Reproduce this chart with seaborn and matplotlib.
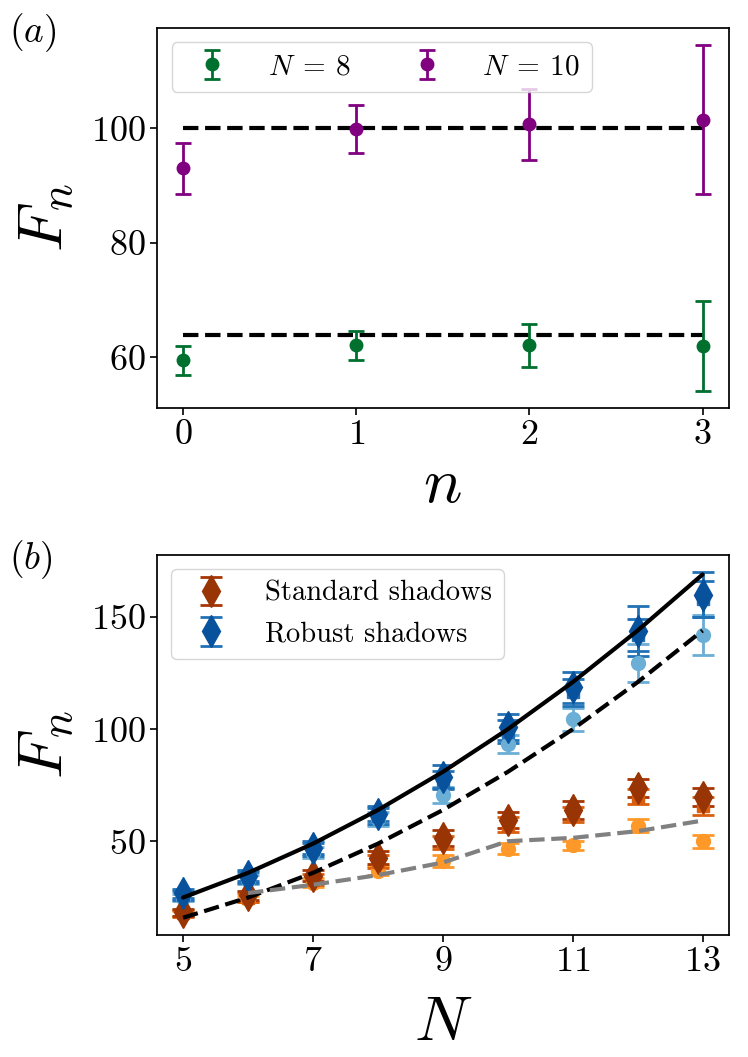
import matplotlib
matplotlib.use("Agg")
import matplotlib.pyplot as plt
import seaborn as sns
import pandas as pd

# ---------------- data: panel (a) ----------------
n_vals = [0, 1, 2, 3]
f_N8 = [59.5, 62.1, 62.1, 62.0]
err_N8 = [2.5, 2.6, 3.8, 7.8]
f_N10 = [93.0, 99.8, 100.7, 101.5]
err_N10 = [4.4, 4.2, 6.2, 13.0]
ref_N8 = [64, 64, 64, 64]
ref_N10 = [100, 100, 100, 100]

# ---------------- data: panel (b) ----------------
N_vals = [5, 6, 7, 8, 9, 10, 11, 12, 13]
robust_d = [26.9, 34.7, 47.2, 62.4, 78.9, 101.0, 118.7, 143.8, 160.0]
robust_d_err = [2.0, 2.5, 3.0, 3.5, 5.0, 6.0, 7.0, 11.0, 10.0]
robust_s = [26.0, 34.0, 46.5, 61.5, 77.5, 99.0, 116.5, 142.0, 158.0]
robust_s_err = [2.0, 2.5, 3.0, 3.5, 4.0, 5.0, 6.0, 7.0, 8.0]
robust_c = [25.0, 33.0, 45.0, 60.0, 70.8, 93.4, 104.4, 129.4, 142.0]
robust_c_err = [1.5, 2.0, 2.5, 3.0, 3.5, 4.0, 5.0, 8.5, 9.0]

std_d = [18.4, 26.1, 34.7, 42.8, 51.6, 59.7, 64.2, 73.8, 70.0]
std_d_err = [1.5, 2.0, 2.5, 3.0, 3.5, 3.5, 4.0, 4.0, 4.0]
std_s = [18.0, 25.0, 33.0, 41.0, 49.5, 57.5, 62.0, 70.0, 66.0]
std_s_err = [1.5, 2.0, 2.5, 3.0, 3.0, 3.5, 3.5, 3.5, 4.0]
std_c = [18.0, 24.3, 31.7, 36.9, 41.3, 46.8, 48.2, 57.1, 50.1]
std_c_err = [1.0, 1.5, 2.0, 2.0, 2.5, 2.5, 2.0, 3.0, 3.0]

theory_full = [25, 36, 49, 64, 81, 100, 121, 144, 169]
theory_minus = [16, 25, 36, 49, 64, 81, 100, 121, 144]
gray_N = [6, 7, 8, 9, 10, 11, 12, 13]
gray_vals = [27.0, 30.7, 35.0, 40.6, 50.1, 51.6, 54.6, 59.3]

sns.set_theme(style="ticks")
plt.rcParams["font.family"] = ["cmr10", "DejaVu Serif"]
plt.rcParams["mathtext.fontset"] = "cm"
plt.rcParams["axes.unicode_minus"] = False
plt.rcParams["axes.formatter.use_mathtext"] = True
plt.rcParams["axes.linewidth"] = 1.25
plt.rcParams["axes.edgecolor"] = "black"
plt.rcParams["text.color"] = "black"
plt.rcParams["axes.labelcolor"] = "black"
plt.rcParams["xtick.color"] = "black"
plt.rcParams["ytick.color"] = "black"

fig = plt.figure(figsize=(7.48, 10.57), dpi=100)
ax1 = fig.add_axes([0.21, 0.614, 0.764, 0.3596])
ax2 = fig.add_axes([0.21, 0.1154, 0.764, 0.3596])

# ---------------- panel (a) ----------------
ref_df = pd.DataFrame({"n": n_vals + n_vals,
                       "F": ref_N8 + ref_N10,
                       "grp": ["8"] * 4 + ["10"] * 4})
sns.lineplot(data=ref_df, x="n", y="F", units="grp", estimator=None,
             color="black", lw=3, ls="--", ax=ax1, zorder=1)
ax1.errorbar(n_vals, f_N8, yerr=err_N8, fmt="o", color="#00702f", ms=9,
             capsize=6, elinewidth=2, capthick=2, label=r"$N\:=\:8$", zorder=3)
ax1.errorbar(n_vals, f_N10, yerr=err_N10, fmt="o", color="#800080", ms=9,
             capsize=6, elinewidth=2, capthick=2, label=r"$N\:=\:10$", zorder=3)
ax1.set_xticks([0, 1, 2, 3])
ax1.set_yticks([60, 80, 100])
ax1.set_xlabel(r"$n$", fontsize=46, labelpad=4)
ax1.set_ylabel(r"$F_n$", fontsize=46, labelpad=10)
ax1.legend(loc="upper left", ncol=2, fontsize=21, columnspacing=1.6,
           handletextpad=0.9, borderaxespad=0.5)

# ---------------- panel (b) ----------------
theory_df = pd.DataFrame({"N": N_vals, "full": theory_full, "minus": theory_minus})
gray_df = pd.DataFrame({"N": gray_N, "F": gray_vals})

series = [
    (std_c, std_c_err, "o", "#fe9929", "#fe9929", 10, None),
    (robust_c, robust_c_err, "o", "#6baed6", "#6baed6", 10, None),
    (std_s, std_s_err, "s", "#d95f0e", "#d95f0e", 9, None),
    (robust_s, robust_s_err, "s", "#2171b5", "#2171b5", 9, None),
    (std_d, std_d_err, "d", "#993404", "#a63603", 16, "Standard shadows"),
    (robust_d, robust_d_err, "d", "#08519c", "#2171b5", 16, "Robust shadows"),
]
for vals, errs, mk, mc, ec, ms, lab in series:
    ax2.errorbar(N_vals, vals, yerr=errs, fmt=mk, color=mc, ecolor=ec, ms=ms,
                 capsize=8, elinewidth=2, capthick=2, label=lab, zorder=2)

sns.lineplot(data=theory_df, x="N", y="full", color="black", lw=3, ax=ax2, zorder=4)
sns.lineplot(data=theory_df, x="N", y="minus", color="black", lw=3, ls="--",
             ax=ax2, zorder=4)
sns.lineplot(data=gray_df, x="N", y="F", color="gray", lw=3, ls="--", ax=ax2, zorder=4)

ax2.set_xticks([5, 7, 9, 11, 13])
ax2.set_yticks([50, 100, 150])
ax2.set_xlabel(r"$N$", fontsize=46, labelpad=12)
ax2.set_ylabel(r"$F_n$", fontsize=46, labelpad=10)
handles, labels = ax2.get_legend_handles_labels()
ax2.legend(handles, labels, loc="upper left", fontsize=20.5, handletextpad=0.9,
           borderaxespad=0.5)

for ax in (ax1, ax2):
    ax.tick_params(labelsize=26, length=5, width=1.2, direction="out")
    for sp in ax.spines.values():
        sp.set_visible(True)
        sp.set_linewidth(1.25)

fig.text(0.012, 0.969, r"$(a)$", fontsize=27, va="center", ha="left")
fig.text(0.012, 0.471, r"$(b)$", fontsize=27, va="center", ha="left")

fig.savefig("out.png", dpi=100)
